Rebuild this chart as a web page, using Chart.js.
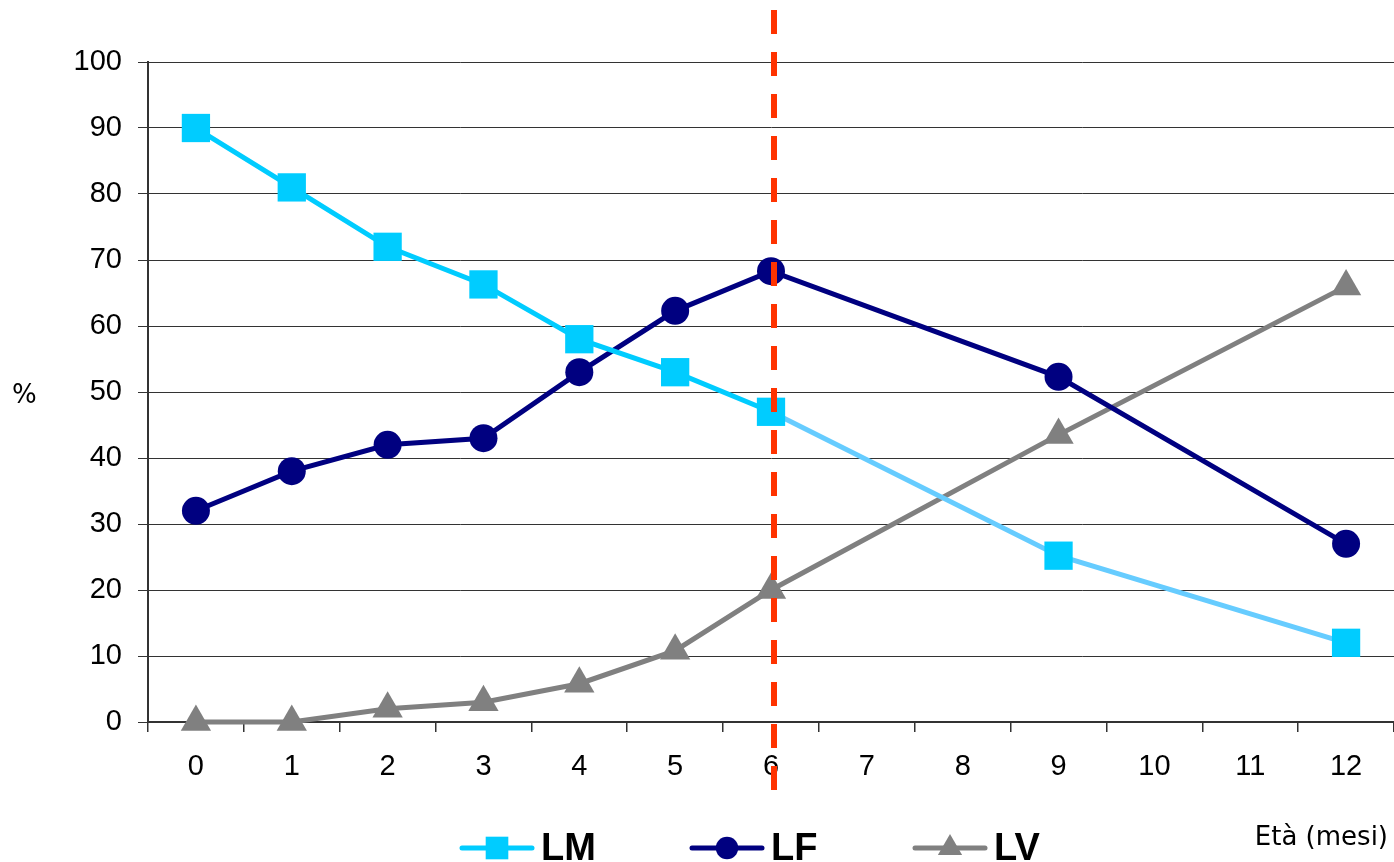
<!DOCTYPE html>
<html>
<head>
<meta charset="utf-8">
<script src="https://cdn.jsdelivr.net/npm/chart.js@4.4.1/dist/chart.umd.min.js"></script>
<style>
  html, body { margin: 0; padding: 0; background: #fff; overflow: hidden; }
  /* 20px wider than the window: Chart.js keeps that much free right of the plot */
  #wrap { width: 1414px; height: 862px; position: relative; }
</style>
</head>
<body>
<div id="wrap"><canvas id="chart"></canvas></div>
<script>
// age in months (x categories)
const months = ['0', '1', '2', '3', '4', '5', '6', '7', '8', '9', '10', '11', '12'];
// % values, null where no measurement
const lmValues = [90, 81, 72, 66.3, 58, 53, 47, null, null, 25.2, null, null, 12];
const lfValues = [32, 38, 42, 43, 53, 62.3, 68.3, null, null, 52.3, null, null, 27];
const lvValues = [0, 0, 2, 3, 5.8, 10.8, 20, null, null, 43.5, null, null, 66];
const yTicks = [0, 10, 20, 30, 40, 50, 60, 70, 80, 90, 100];
const cutoffMonth = '6';

const TICK_FONT = { family: '"Liberation Sans", Arial, sans-serif', size: 29 };

// red dashed cut-off line + "%" and "Età (mesi)" texts
const annotations = {
  id: 'annotations',
  afterDatasetsDraw(chart) {
    const { ctx } = chart;
    const x = chart.scales.x.getPixelForValue(months.indexOf(cutoffMonth)) + 3;
    ctx.save();
    ctx.strokeStyle = '#ff3300';
    ctx.lineWidth = 6;
    ctx.setLineDash([24, 18]);
    ctx.beginPath();
    ctx.moveTo(x, 10);
    ctx.lineTo(x, 792);
    ctx.stroke();
    ctx.restore();

    ctx.save();
    ctx.fillStyle = '#000';
    ctx.font = '26px "DejaVu Sans", Verdana, sans-serif';
    ctx.textBaseline = 'middle';
    ctx.textAlign = 'left';
    ctx.fillText('%', 12, 396);
    ctx.textAlign = 'right';
    ctx.fillText('Età (mesi)', 1388, 838);
    ctx.restore();
  }
};

// legend drawn as line + marker like the original
const lineLegend = {
  id: 'lineLegend',
  afterDraw(chart) {
    const { ctx } = chart;
    const starts = [462, 692, 915];
    const y = 848;
    chart.data.datasets.forEach((ds, i) => {
      const x0 = starts[i];
      ctx.save();
      ctx.strokeStyle = ds.borderColor;
      ctx.lineWidth = 5;
      ctx.lineCap = 'round';
      ctx.beginPath();
      ctx.moveTo(x0, y);
      ctx.lineTo(x0 + 70, y);
      ctx.stroke();
      ctx.fillStyle = ds.pointBackgroundColor;
      ctx.strokeStyle = ds.pointBackgroundColor;
      Chart.helpers.drawPoint(ctx, { pointStyle: ds.pointStyle, radius: ds.pointRadius * 0.8, borderWidth: 0 }, x0 + 35, y);
      ctx.fillStyle = '#000';
      ctx.font = 'bold 38px "Liberation Sans", Arial, sans-serif';
      ctx.textBaseline = 'alphabetic';
      ctx.textAlign = 'left';
      ctx.fillText(ds.label, x0 + 79, 860);
      ctx.restore();
    });
  }
};

new Chart(document.getElementById('chart'), {
  type: 'line',
  data: {
    labels: months,
    datasets: [
      {
        label: 'LM', data: lmValues, borderColor: '#00ccff', pointBackgroundColor: '#00ccff',
        pointBorderWidth: 0, pointStyle: 'rect', pointRadius: 20, borderWidth: 5,
        segment: { borderColor: c => (c.p0DataIndex >= 6 ? '#66ccff' : '#00ccff') },
      },
      {
        label: 'LF', data: lfValues, borderColor: '#000080', pointBackgroundColor: '#000080',
        pointBorderWidth: 0, pointStyle: 'circle', pointRadius: 14, borderWidth: 5,
      },
      {
        label: 'LV', data: lvValues, borderColor: '#808080', pointBackgroundColor: '#808080',
        pointBorderWidth: 0, pointStyle: 'triangle', pointRadius: 17.5, borderWidth: 5,
      },
    ],
  },
  options: {
    responsive: true,
    maintainAspectRatio: false,
    animation: false,
    spanGaps: true,
    clip: false,
    layout: { padding: { top: 62, left: 0, right: 0, bottom: 0 } },
    plugins: { legend: { display: false }, tooltip: { enabled: false } },
    elements: { line: { tension: 0 }, point: { hoverRadius: 0 } },
    scales: {
      x: {
        offset: true,
        grid: { offset: true, drawOnChartArea: false, drawTicks: true, tickLength: 10, color: '#333', lineWidth: 1.5 },
        border: { color: '#333', width: 2 },
        ticks: { color: '#000', font: TICK_FONT, padding: 18, maxRotation: 0, autoSkip: false },
        afterFit: s => { s.height = 140; },
      },
      y: {
        min: 0, max: 100,
        afterBuildTicks: s => { s.ticks = yTicks.map(v => ({ value: v })); },
        grid: { color: '#333', lineWidth: 1, tickLength: 10 },
        border: { color: '#333', width: 2 },
        ticks: { color: '#000', font: TICK_FONT, padding: 16 },
        afterFit: s => { s.width = 148; },
      },
    },
  },
  plugins: [annotations, lineLegend],
});
</script>
</body>
</html>
